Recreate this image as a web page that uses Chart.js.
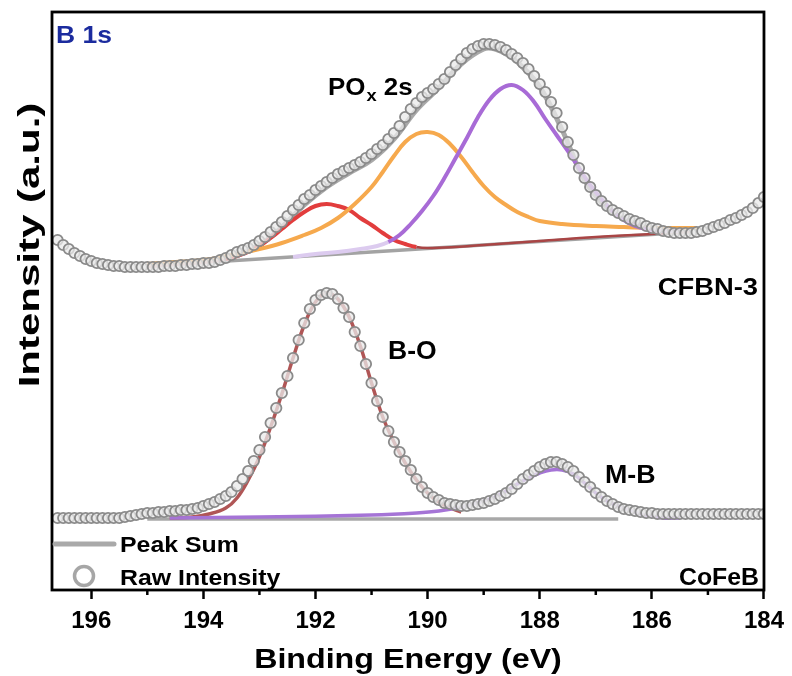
<!DOCTYPE html>
<html>
<head>
<meta charset="utf-8">
<title>B 1s XPS</title>
<script src="https://cdn.jsdelivr.net/npm/chart.js@4.4.1/dist/chart.umd.min.js"></script>
<style>
  html, body { margin: 0; padding: 0; background: #ffffff; }
  #wrap { width: 792px; height: 676px; }
</style>
</head>
<body>
<div id="wrap"><canvas id="xps" width="792" height="676"></canvas></div>
<script>
// ---- Binding-energy grid of the measured spectra (eV) ----
const rawEnergy = [
  196.6, 196.5, 196.4, 196.3, 196.2, 196.1, 196.0,
  195.9, 195.8, 195.7, 195.6, 195.5, 195.4, 195.3, 195.2, 195.1, 195.0,
  194.9, 194.8, 194.7, 194.6, 194.5, 194.4, 194.3, 194.2, 194.1, 194.0,
  193.9, 193.8, 193.7, 193.6, 193.5, 193.4, 193.3, 193.2, 193.1, 193.0,
  192.9, 192.8, 192.7, 192.6, 192.5, 192.4, 192.3, 192.2, 192.1, 192.0,
  191.9, 191.8, 191.7, 191.6, 191.5, 191.4, 191.3, 191.2, 191.1, 191.0,
  190.9, 190.8, 190.7, 190.6, 190.5, 190.4, 190.3, 190.2, 190.1, 190.0,
  189.9, 189.8, 189.7, 189.6, 189.5, 189.4, 189.3, 189.2, 189.1, 189.0,
  188.9, 188.8, 188.7, 188.6, 188.5, 188.4, 188.3, 188.2, 188.1, 188.0,
  187.9, 187.8, 187.7, 187.6, 187.5, 187.4, 187.3, 187.2, 187.1, 187.0,
  186.9, 186.8, 186.7, 186.6, 186.5, 186.4, 186.3, 186.2, 186.1, 186.0,
  185.9, 185.8, 185.7, 185.6, 185.5, 185.4, 185.3, 185.2, 185.1, 185.0,
  184.9, 184.8, 184.7, 184.6, 184.5, 184.4, 184.3, 184.2, 184.1, 184.0
];

// ---- CFBN-3 (upper, offset) raw intensity, a.u. ----
const cfbnRaw = [
  350, 345, 341, 337, 334, 331, 329,
  327, 326, 325, 324, 324, 323, 323, 323, 323, 323,
  323, 323, 324, 324, 324, 325, 325, 326, 326, 327,
  327, 328, 330, 332, 335, 338, 340, 342, 345, 349,
  353, 358, 363, 368, 374, 380, 385, 391, 395, 400,
  404, 408, 412, 416, 419, 422, 425, 428, 432, 436,
  441, 445, 451, 457, 464, 473, 481, 487, 493, 497,
  501, 506, 511, 518, 525, 531, 537, 541, 544, 546,
  546, 545, 543, 540, 536, 532, 527, 521, 514, 506,
  498, 488, 477, 463, 448, 435, 422, 412, 403, 395,
  389, 384, 380, 377, 374, 371, 369, 367, 364, 362,
  361, 359, 358, 357, 357, 357, 357, 358, 359, 361,
  363, 365, 367, 370, 372, 375, 378, 382, 387, 393
];

// ---- CoFeB (lower) raw intensity, a.u. ----
const cofebRaw = [
  72, 72, 72, 72, 72, 72, 72,
  72, 72, 72, 72, 72, 73, 74, 75, 76, 77,
  77, 78, 78, 79, 79, 80, 80, 81, 82, 84,
  86, 88, 91, 94, 98, 104, 111, 119, 129, 140,
  153, 167, 182, 197, 214, 232, 250, 267, 281, 290,
  295, 297, 296, 291, 282, 273, 258, 244, 226, 207,
  189, 173, 159, 148, 138, 129, 120, 111, 103, 97,
  93, 90, 87, 86, 85, 84, 84, 85, 86, 87,
  89, 91, 94, 97, 101, 106, 111, 115, 119, 123,
  126, 128, 128, 126, 123, 119, 113, 108, 103, 97,
  93, 89, 86, 83, 81, 80, 79, 78, 77, 77,
  76, 76, 76, 76, 76, 76, 76, 76, 76, 76,
  76, 76, 76, 76, 76, 76, 76, 76, 76, 76
];

// ---- CFBN-3 fit ----
const cfbnBgEnergy = [195.0, 185.3];
const cfbnBg = [324, 358];

const cfbnSumEnergy = [195.0, 194.5, 194.0, 193.5, 193.0, 192.6, 192.2, 191.8, 191.4, 191.0, 190.6, 190.2, 189.8,
  189.4, 189.0, 188.8, 188.6, 188.4, 188.0, 187.6, 187.2, 186.8, 186.4, 186.0, 185.6, 185.3];
const cfbnSum = [324, 326, 328, 333, 345, 363, 385, 403, 417, 430, 451, 480, 502,
  526, 541, 541, 536, 528, 503, 460, 410, 382, 369, 361, 358, 358];

const boEnergyC = [195.0, 194.5, 194.0, 193.6, 193.4, 193.2, 193.0, 192.8, 192.6, 192.4, 192.2, 192.0, 191.8, 191.6,
  191.4, 191.2, 191.0, 190.8, 190.6, 190.4, 190.2, 190.0, 189.5, 189.0, 188.0, 187.0, 186.0, 185.3];
const boPeakC = [324, 326, 328, 331, 334, 338, 344, 352, 361, 370, 378, 384, 386, 384,
  380, 372, 365, 357, 350, 346, 343, 342, 343, 345, 349, 353, 356, 358];

const poxEnergy = [195.0, 194.5, 194.0, 193.5, 193.0, 192.6, 192.2, 191.9, 191.6, 191.3, 191.0, 190.8, 190.6, 190.4,
  190.2, 190.0, 189.8, 189.6, 189.4, 189.2, 189.0, 188.8, 188.6, 188.4, 188.2, 188.0, 187.6, 187.0,
  186.5, 186.0, 185.5, 185.2];
const poxPeak = [326, 328, 330, 335, 341, 347, 355, 362, 372, 386, 403, 418, 434, 448,
  456, 458, 455, 446, 433, 418, 404, 393, 385, 378, 373, 369, 366, 364,
  363, 362, 362, 362];

const mbEnergyC = [192.4, 192.0, 191.6, 191.2, 190.9, 190.7, 190.5, 190.3, 190.1, 189.9, 189.7, 189.5, 189.3, 189.1,
  188.9, 188.7, 188.5, 188.3, 188.1, 187.9, 187.7, 187.5, 187.3, 187.1, 186.9, 186.7, 186.5, 186.3,
  186.1, 185.8, 185.5];
const mbPeakC = [333, 336, 338, 341, 344, 348, 355, 366, 379, 394, 412, 432, 452, 473,
  490, 501, 505, 500, 488, 471, 455, 439, 422, 405, 391, 379, 370, 364,
  361, 359, 359];

// ---- CoFeB fit ----
const cofebBgEnergy = [195.0, 186.6];
const cofebBg = [71, 71];

const boEnergyF = [194.6, 194.2, 193.9, 193.6, 193.4, 193.2, 193.0, 192.8, 192.6, 192.4, 192.2, 192.0, 191.8,
  191.6, 191.4, 191.2, 191.0, 190.8, 190.6, 190.4, 190.2, 190.0, 189.8, 189.6, 189.4];
const boPeakF = [72, 73, 76, 82, 92, 110, 133, 163, 196, 232, 265, 288, 297,
  291, 273, 244, 207, 173, 148, 127, 110, 97, 88, 82, 78];

const mbEnergyF = [194.6, 193.0, 191.0, 190.2, 189.8, 189.4, 189.0, 188.8, 188.6, 188.4, 188.2, 188.0, 187.8, 187.6,
  187.4, 187.2, 187.0, 186.8, 186.6, 186.4, 186.2, 186.0, 185.8, 185.5];
const mbPeakF = [72, 73, 75, 77, 79, 83, 89, 93, 99, 106, 112, 117, 120, 120,
  116, 107, 97, 89, 84, 80, 76, 74, 72, 72];

// ---- Axis ----
const xTickValues = [196, 194, 192, 190, 188, 186, 184];
const xMinorValues = [195, 193, 191, 189, 187, 185];
const xTitle = 'Binding Energy (eV)';
const yTitle = 'Intensity (a.u.)';

const FONT = '"Liberation Sans", Arial, Helvetica, sans-serif';

const pairs = (xs, ys) => xs.map((x, i) => ({ x: x, y: ys[i] }));

function rawSet(label, xs, ys) {
  return {
    label: label,
    data: pairs(xs, ys),
    showLine: false,
    pointRadius: 5.2,
    pointBorderWidth: 1.8,
    pointBorderColor: '#8a8a8a',
    pointBackgroundColor: 'rgba(234,234,234,0.75)',
    order: 0
  };
}

function fitSet(label, xs, ys, color, width, order, segment) {
  const ds = {
    label: label,
    data: pairs(xs, ys),
    borderColor: color,
    borderWidth: width,
    pointRadius: 0,
    tension: 0.4,
    fill: false,
    order: order
  };
  if (segment) ds.segment = segment;
  return ds;
}

// the B-O tail lying on the background is drawn darker and thinner
const boTail = {
  borderColor: c => (c.p0.parsed.x <= 190.2 ? '#a94545' : undefined),
  borderWidth: c => (c.p0.parsed.x <= 190.2 ? 2.5 : undefined)
};
// the M-B tail on the high-energy side is pale
const mbTail = {
  borderColor: c => (c.p1.parsed.x >= 190.7 ? '#dccbef' : undefined)
};

const datasets = [
  rawSet('Raw Intensity', rawEnergy, cfbnRaw),
  rawSet('Raw Intensity (CoFeB)', rawEnergy, cofebRaw),
  fitSet('Peak Sum', cfbnSumEnergy, cfbnSum, '#a9a9a9', 5, 6),
  fitSet('Background', cfbnBgEnergy, cfbnBg, '#a3a3a3', 3.5, 5),
  fitSet('B-O', boEnergyC, boPeakC, '#e23d3d', 4, 3, boTail),
  fitSet('PO\u2093 2s', poxEnergy, poxPeak, '#f6a94d', 4, 2),
  fitSet('M-B', mbEnergyC, mbPeakC, '#a86bd6', 4, 1, mbTail),
  fitSet('Background (CoFeB)', cofebBgEnergy, cofebBg, '#a8a8a8', 3.5, 5),
  fitSet('B-O (CoFeB)', boEnergyF, boPeakF, '#b05656', 3.5, 3),
  fitSet('M-B (CoFeB)', mbEnergyF, mbPeakF, '#a574d6', 3.5, 2)
];

function drawLabel(ctx, text, x, y, size, color, align, stretch) {
  ctx.save();
  ctx.font = 'bold ' + size + 'px ' + FONT;
  ctx.fillStyle = color;
  ctx.textBaseline = 'alphabetic';
  ctx.textAlign = 'left';
  const w = ctx.measureText(text).width * stretch;
  const x0 = align === 'right' ? x - w : (align === 'center' ? x - w / 2 : x);
  ctx.translate(x0, y);
  ctx.scale(stretch, 1);
  ctx.fillText(text, 0, 0);
  ctx.restore();
  return w;
}

// Frame, minor ticks, legend, axis titles and peak labels
const decorations = {
  id: 'decorations',
  afterDraw(chart) {
    const ctx = chart.ctx;
    const a = chart.chartArea;
    const xs = chart.scales.x;

    // minor ticks
    ctx.save();
    ctx.strokeStyle = '#000';
    ctx.lineWidth = 2.5;
    xMinorValues.forEach(v => {
      const px = xs.getPixelForValue(v);
      ctx.beginPath();
      ctx.moveTo(px, a.bottom);
      ctx.lineTo(px, a.bottom + 5);
      ctx.stroke();
    });
    ctx.restore();

    // plot frame
    ctx.save();
    ctx.strokeStyle = '#000';
    ctx.lineWidth = 2.8;
    ctx.strokeRect(a.left, a.top, a.right - a.left, a.bottom - a.top);
    ctx.restore();

    // legend
    const sumDs = chart.data.datasets[2];
    const rawDs = chart.data.datasets[0];
    ctx.save();
    ctx.strokeStyle = sumDs.borderColor;
    ctx.lineWidth = 5;
    ctx.lineCap = 'round';
    ctx.beginPath();
    ctx.moveTo(a.left + 3, 544);
    ctx.lineTo(a.left + 62, 544);
    ctx.stroke();
    ctx.lineWidth = 3.5;
    ctx.strokeStyle = '#a6a6a6';
    ctx.beginPath();
    ctx.arc(a.left + 32, 576, 9.5, 0, Math.PI * 2);
    ctx.stroke();
    ctx.restore();
    drawLabel(ctx, sumDs.label, 120, 552, 22, '#000', 'left', 1.13);
    drawLabel(ctx, rawDs.label, 120, 585, 22, '#000', 'left', 1.13);

    // sample names and peak assignments
    drawLabel(ctx, 'B 1s', 56, 43, 23, '#1b2b9e', 'left', 1.15);
    const w = drawLabel(ctx, 'PO', 328, 95, 24, '#000', 'left', 1.08);
    const w2 = drawLabel(ctx, 'x', 328 + w + 1, 101, 17, '#000', 'left', 1.08);
    drawLabel(ctx, ' 2s', 328 + w + w2 + 1, 95, 24, '#000', 'left', 1.08);
    drawLabel(ctx, 'CFBN-3', 758, 295, 24, '#000', 'right', 1.14);
    drawLabel(ctx, 'B-O', 388, 359, 26, '#000', 'left', 1.02);
    drawLabel(ctx, 'M-B', 605, 483, 26, '#000', 'left', 1.03);
    drawLabel(ctx, 'CoFeB', 759, 585, 23, '#000', 'right', 1.08);

    // x-axis title
    drawLabel(ctx, xTitle, (a.left + a.right) / 2, 668, 28, '#000', 'center', 1.15);

    // y-axis title (tall, narrow lettering)
    ctx.save();
    ctx.translate(31, 245);
    ctx.rotate(-Math.PI / 2);
    ctx.scale(1.4, 1);
    ctx.font = 'bold 30px ' + FONT;
    ctx.fillStyle = '#000';
    ctx.textAlign = 'center';
    ctx.textBaseline = 'middle';
    ctx.fillText(yTitle, 0, 0);
    ctx.restore();
  }
};

new Chart(document.getElementById('xps'), {
  type: 'line',
  data: { datasets: datasets },
  options: {
    responsive: false,
    devicePixelRatio: 1,
    animation: false,
    events: [],
    layout: { padding: { left: 2, right: 26, top: 12, bottom: 0 } },
    plugins: { legend: { display: false }, tooltip: { enabled: false } },
    scales: {
      x: {
        type: 'linear',
        min: 184,
        max: 196.7,
        reverse: true,
        afterBuildTicks: s => { s.ticks = xTickValues.map(v => ({ value: v })); },
        afterFit: s => { s.height = 86; },
        border: { display: false },
        grid: { drawOnChartArea: false, drawTicks: true, tickLength: 9, tickWidth: 2.5, tickColor: '#000' },
        ticks: {
          color: '#000', padding: 8, maxRotation: 0, autoSkip: false,
          font: { family: FONT, size: 24, weight: 'bold' },
          callback: v => String(v)
        },
        title: { display: false }
      },
      y: {
        type: 'linear',
        min: 0,
        max: 578,
        afterFit: s => { s.width = 50; },
        border: { display: false },
        grid: { display: false },
        ticks: { display: false }
      }
    }
  },
  plugins: [decorations]
});
</script>
</body>
</html>
